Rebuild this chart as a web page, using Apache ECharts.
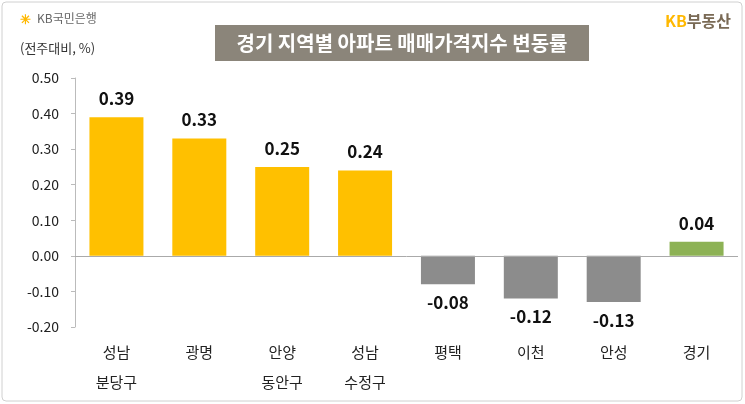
<!DOCTYPE html>
<html><head><meta charset="utf-8">
<script src="https://cdn.jsdelivr.net/npm/echarts@6/dist/echarts.min.js"></script>
<style>html,body{margin:0;padding:0;background:#fff}#c{width:745px;height:404px}</style>
</head><body><div id="c"></div>
<script>
const regions = ['성남\n분당구', '광명', '안양\n동안구', '성남\n수정구', '평택', '이천', '안성', '경기'];
const changes = [0.39, 0.33, 0.25, 0.24, -0.08, -0.12, -0.13, 0.04];
const barColors = ['#FFC000', '#FFC000', '#FFC000', '#FFC000', '#8C8C8C', '#8C8C8C', '#8C8C8C', '#8DB255'];

const chart = echarts.init(document.getElementById('c'));
const font = '"Noto Sans CJK KR", sans-serif';

chart.setOption({
  animation: false,
  textStyle: { fontFamily: font },
  graphic: [
    { type: 'rect', shape: { x: 2, y: 2, width: 740, height: 399, r: 4 }, style: { fill: 'none', stroke: '#d0d0d0', lineWidth: 1 } },
    { type: 'rect', shape: { x: 215, y: 25, width: 374, height: 36 }, style: { fill: '#8B857A' } },
    { type: 'text', x: 402, y: 43, style: { text: '경기 지역별 아파트 매매가격지수 변동률', fill: '#fff', font: 'bold 20px ' + font, textAlign: 'center', textVerticalAlign: 'middle' } },
    { type: 'text', left: 20, top: 13, style: { text: '✳', fill: '#FFB800', font: 'bold 13px ' + font } },
    { type: 'text', left: 37, top: 12, style: { text: 'KB국민은행', fill: '#666', font: '12px ' + font } },
    { type: 'text', right: 14, top: 13, style: { rich: { a: { fill: '#FFB800', font: 'bold 16px ' + font }, b: { fill: '#7a6a55', font: 'bold 16px ' + font } }, text: '{a|KB}{b|부동산}' } },
    { type: 'text', left: 20, top: 42, style: { text: '(전주대비, %)', fill: '#333', font: '13px ' + font } }
  ],
  grid: { left: 75, right: 7, top: 78, bottom: 77 },
  xAxis: {
    type: 'category', data: regions,
    axisLine: { show: false }, axisTick: { show: false },
    axisLabel: { color: '#222', fontSize: 15, lineHeight: 30, margin: 10 }
  },
  yAxis: {
    type: 'value', min: -0.2, max: 0.5, interval: 0.1,
    splitLine: { show: false },
    axisLine: { show: true, lineStyle: { color: '#bbb' } },
    axisTick: { show: true, length: 4, lineStyle: { color: '#bbb' } },
    axisLabel: { color: '#222', fontSize: 14, margin: 16, formatter: v => v.toFixed(2) }
  },
  series: [{
    type: 'bar', barWidth: 54,
    data: changes.map((v, i) => ({ value: v, itemStyle: { color: barColors[i] }, label: { position: v < 0 ? 'bottom' : 'top' } })),
    label: {
      show: true, color: '#111', fontSize: 17, fontWeight: 'bold', distance: 10,
      formatter: p => p.value.toFixed(2)
    },
    markLine: {
      silent: true, symbol: 'none', label: { show: false },
      lineStyle: { color: '#aaa', type: 'solid', width: 1 },
      data: [{ yAxis: 0 }]
    }
  }]
});
</script></body></html>
